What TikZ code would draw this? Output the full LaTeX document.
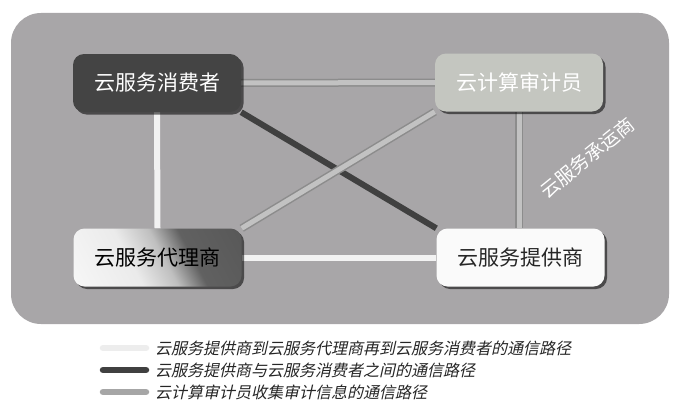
\documentclass[tikz,border=0pt]{standalone}
\usepackage{fontspec}
\setmainfont{Noto Sans CJK SC}
\newfontfamily\cjkit[FakeSlant=0.22]{Noto Sans CJK SC}
\usetikzlibrary{shadows}
\definecolor{bggray}{HTML}{A8A6A8}
\definecolor{consc}{HTML}{444444}
\definecolor{audc}{HTML}{C4C6C0}
\definecolor{provc}{HTML}{FAFAFA}
\definecolor{railin}{HTML}{C2C2C2}
\definecolor{railout}{HTML}{8C8C8C}
\definecolor{whiteln}{HTML}{F2F2F2}
\definecolor{darkln}{HTML}{404040}
\pgfdeclarehorizontalshading{brokershade}{100bp}{color(0bp)=(white); color(40bp)=(white!92!black); color(52bp)=(white!75!black); color(62bp)=(black!62); color(100bp)=(black!68)}
\pgfdeclarelayer{back}
\pgfdeclarelayer{mid}
\pgfsetlayers{back,mid,main}
\tikzset{
  boxnode/.style={rounded corners=11pt, minimum width=168pt, minimum height=58pt,
    inner sep=0pt, font=\fontsize{21}{24}\selectfont,
    drop shadow={shadow xshift=2.5pt, shadow yshift=-2.5pt, opacity=0.55, fill=black}},
  whiteline/.style={draw=whiteln, line width=6pt},
  darkline/.style={draw=darkln, line width=6pt},
  rail/.style={draw=railout, line width=8pt, postaction={draw=railin, line width=5pt}},
  legtext/.style={anchor=west, inner sep=0pt, font=\cjkit\fontsize{16}{18}\selectfont, text=black!85},
  legbar/.style={line width=6.5pt, line cap=round}
}
\begin{document}
\begin{tikzpicture}[x=1pt, y=-1pt]
\useasboundingbox (0,0) rectangle (676,412);
\begin{pgfonlayer}{back}
  \fill[white] (0,0) rectangle (676,412);
  \fill[bggray, rounded corners=30pt] (11,13) rectangle (669,324);
\end{pgfonlayer}
% nodes
\node[boxnode, fill=consc, text=white] (cons) at (157,83) {云服务消费者};
\node[boxnode, fill=audc, text=white] (aud) at (519,82.5) {云计算审计员};
\node[boxnode, shading=brokershade, shading angle=28, text=black] (brok) at (157.5,257.5) {云服务代理商};
\node[boxnode, fill=provc, text=black!85] (prov) at (520.5,257.5) {云服务提供商};
% connectors
\begin{pgfonlayer}{mid}
  \draw[whiteline] (cons.south) -- (brok.north);
  \draw[whiteline] (brok.east) -- (prov.west);
  \draw[darkline] (cons.south east) -- (prov.north west);
  \draw[rail] (cons.east) -- (aud.west);
  \draw[rail] (aud.south) -- (aud.south |- prov.north);
  \draw[rail] (brok.north east) -- (aud.south west);
\end{pgfonlayer}
\node[text=white, rotate=39, inner sep=0pt, font=\fontsize{19}{20}\selectfont] (carrier) at (587,158) {云服务承运商};
% legend
\coordinate (l1a) at (103,348); \coordinate (l1b) at (146,348);
\coordinate (l2a) at (103,370); \coordinate (l2b) at (146,370);
\coordinate (l3a) at (103,392); \coordinate (l3b) at (146,392);
\draw[legbar, draw=white!93!black] (l1a) -- (l1b);
\draw[legbar, draw=darkln] (l2a) -- (l2b);
\draw[legbar, draw=black!35] (l3a) -- (l3b);
\node[legtext] (t1) at (155,348) {云服务提供商到云服务代理商再到云服务消费者的通信路径};
\node[legtext] (t2) at (155,370) {云服务提供商与云服务消费者之间的通信路径};
\node[legtext] (t3) at (155,392) {云计算审计员收集审计信息的通信路径};
\end{tikzpicture}
\end{document}
